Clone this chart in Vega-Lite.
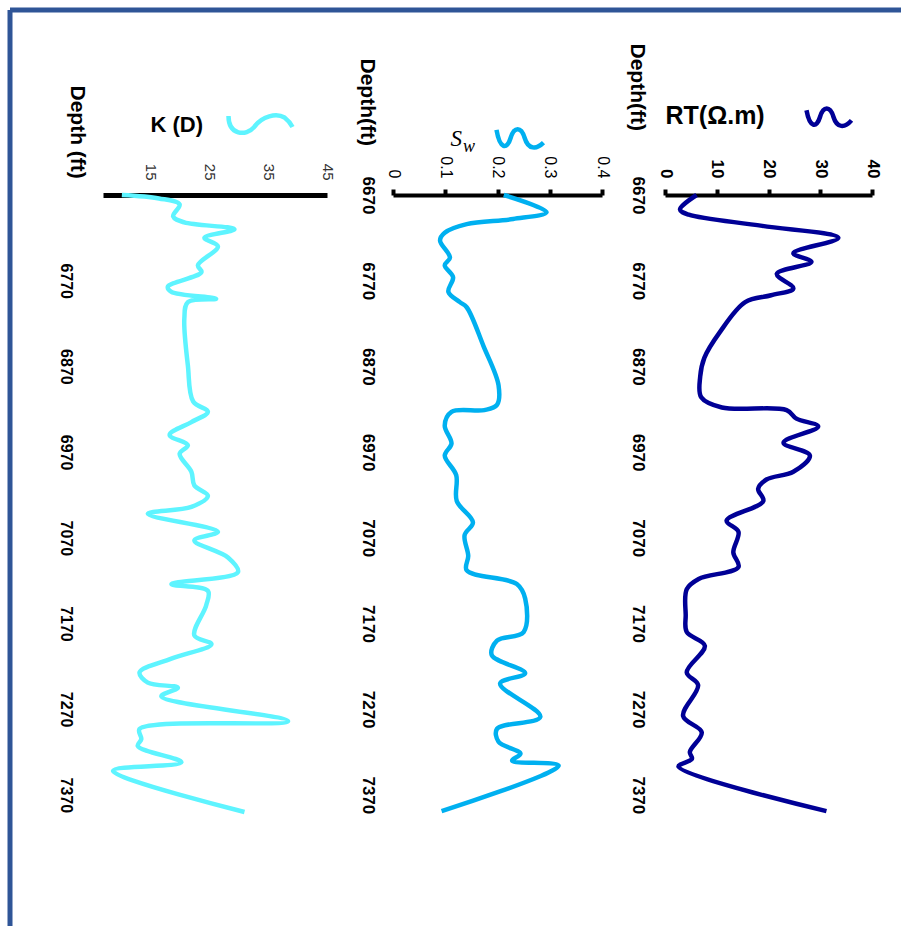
{
  "$schema": "https://vega.github.io/schema/vega-lite/v6.json",
  "width": 891,
  "height": 916,
  "autosize": {"type": "none"},
  "padding": {"left": 10, "top": 10, "right": 0, "bottom": 0},
  "background": "white",
  "datasets": {
    "rt": [
      {"depth": 6670, "rt": 6.1}, {"depth": 6687, "rt": 2.9}, {"depth": 6693, "rt": 4.6},
      {"depth": 6706, "rt": 18.8}, {"depth": 6720, "rt": 33.5}, {"depth": 6738, "rt": 24.8},
      {"depth": 6748, "rt": 28.3}, {"depth": 6762, "rt": 21.6}, {"depth": 6779, "rt": 24.8},
      {"depth": 6787, "rt": 20.5}, {"depth": 6795, "rt": 15.5}, {"depth": 6830, "rt": 10.6},
      {"depth": 6860, "rt": 7.6}, {"depth": 6882, "rt": 6.8}, {"depth": 6906, "rt": 7.0},
      {"depth": 6918, "rt": 11.0}, {"depth": 6921, "rt": 23.5}, {"depth": 6931, "rt": 25.4},
      {"depth": 6940, "rt": 29.6}, {"depth": 6959, "rt": 22.9}, {"depth": 6974, "rt": 28.0},
      {"depth": 6993, "rt": 24.8}, {"depth": 7002, "rt": 19.6}, {"depth": 7013, "rt": 18.0},
      {"depth": 7027, "rt": 19.0}, {"depth": 7050, "rt": 11.9}, {"depth": 7063, "rt": 14.2},
      {"depth": 7087, "rt": 13.2}, {"depth": 7104, "rt": 14.2}, {"depth": 7118, "rt": 6.5},
      {"depth": 7130, "rt": 4.2}, {"depth": 7160, "rt": 4.0}, {"depth": 7180, "rt": 4.2},
      {"depth": 7196, "rt": 7.7}, {"depth": 7227, "rt": 4.2}, {"depth": 7242, "rt": 6.4},
      {"depth": 7278, "rt": 3.5}, {"depth": 7297, "rt": 7.1}, {"depth": 7320, "rt": 4.8},
      {"depth": 7328, "rt": 5.2}, {"depth": 7337, "rt": 2.6}, {"depth": 7389, "rt": 31.2}
    ],
    "sw": [
      {"depth": 6670, "sw": 0.212}, {"depth": 6690, "sw": 0.294}, {"depth": 6698, "sw": 0.23},
      {"depth": 6704, "sw": 0.141}, {"depth": 6714, "sw": 0.099}, {"depth": 6723, "sw": 0.09},
      {"depth": 6743, "sw": 0.109}, {"depth": 6752, "sw": 0.099}, {"depth": 6766, "sw": 0.115},
      {"depth": 6783, "sw": 0.106}, {"depth": 6795, "sw": 0.128}, {"depth": 6801, "sw": 0.141},
      {"depth": 6846, "sw": 0.173}, {"depth": 6892, "sw": 0.202}, {"depth": 6915, "sw": 0.199},
      {"depth": 6921, "sw": 0.175}, {"depth": 6923, "sw": 0.112}, {"depth": 6939, "sw": 0.099},
      {"depth": 6960, "sw": 0.112}, {"depth": 6974, "sw": 0.099}, {"depth": 6997, "sw": 0.121},
      {"depth": 7027, "sw": 0.122}, {"depth": 7052, "sw": 0.153}, {"depth": 7067, "sw": 0.137},
      {"depth": 7091, "sw": 0.144}, {"depth": 7108, "sw": 0.141}, {"depth": 7124, "sw": 0.237},
      {"depth": 7141, "sw": 0.253}, {"depth": 7180, "sw": 0.25}, {"depth": 7190, "sw": 0.199},
      {"depth": 7207, "sw": 0.189}, {"depth": 7228, "sw": 0.253}, {"depth": 7240, "sw": 0.205},
      {"depth": 7279, "sw": 0.282}, {"depth": 7293, "sw": 0.199}, {"depth": 7308, "sw": 0.202},
      {"depth": 7322, "sw": 0.244}, {"depth": 7330, "sw": 0.228}, {"depth": 7336, "sw": 0.317},
      {"depth": 7389, "sw": 0.093}
    ],
    "k": [
      {"depth": 6670, "k": 10.2}, {"depth": 6674, "k": 16.5}, {"depth": 6681, "k": 20.0},
      {"depth": 6695, "k": 18.9}, {"depth": 6702, "k": 20.8}, {"depth": 6710, "k": 29.3},
      {"depth": 6720, "k": 24.2}, {"depth": 6730, "k": 26.5}, {"depth": 6752, "k": 23.1},
      {"depth": 6760, "k": 23.7}, {"depth": 6777, "k": 18.0}, {"depth": 6783, "k": 18.6},
      {"depth": 6791, "k": 26.2}, {"depth": 6795, "k": 21.4}, {"depth": 6814, "k": 20.8},
      {"depth": 6869, "k": 21.4}, {"depth": 6911, "k": 22.3}, {"depth": 6923, "k": 24.8},
      {"depth": 6935, "k": 22.0}, {"depth": 6950, "k": 18.3}, {"depth": 6962, "k": 21.4},
      {"depth": 6972, "k": 20.0}, {"depth": 6993, "k": 22.0}, {"depth": 7009, "k": 22.5},
      {"depth": 7021, "k": 24.8}, {"depth": 7034, "k": 22.0}, {"depth": 7042, "k": 14.6},
      {"depth": 7063, "k": 26.5}, {"depth": 7073, "k": 22.5}, {"depth": 7093, "k": 28.2},
      {"depth": 7110, "k": 29.9}, {"depth": 7124, "k": 18.6}, {"depth": 7132, "k": 24.8},
      {"depth": 7149, "k": 24.5}, {"depth": 7184, "k": 22.5}, {"depth": 7194, "k": 25.4},
      {"depth": 7211, "k": 18.6}, {"depth": 7227, "k": 13.2}, {"depth": 7239, "k": 14.6},
      {"depth": 7245, "k": 19.7}, {"depth": 7255, "k": 16.9}, {"depth": 7284, "k": 38.4},
      {"depth": 7293, "k": 13.2}, {"depth": 7305, "k": 13.5}, {"depth": 7313, "k": 12.9},
      {"depth": 7332, "k": 20.3}, {"depth": 7342, "k": 8.7}, {"depth": 7390, "k": 31.0}
    ]
  },
  "layer": [
    {
      "data": {"name": "rt"},
      "mark": {"type": "line", "interpolate": "catmull-rom", "strokeWidth": 4.5},
      "encoding": {
        "x": {
          "field": "rt", "type": "quantitative",
          "scale": {"domain": [0, 40], "range": [655, 862], "nice": false, "zero": false},
          "axis": {
            "orient": "top", "offset": -185, "values": [0, 10, 20, 30, 40],
            "grid": false, "domainColor": "#000000", "domainWidth": 4,
            "ticks": true, "tickSize": 6, "tickWidth": 4, "tickColor": "#000000",
            "labelAngle": 90, "labelAlign": "right", "labelBaseline": "middle",
            "labelPadding": 11, "labelFlush": false, "labelOverlap": false, "labelBound": false,
            "labelFont": "Liberation Sans", "labelFontSize": 17, "labelFontWeight": "bold", "labelColor": "#000000",
            "title": "RT(Ω.m)", "titleX": 655, "titleY": -80, "titleAngle": 0,
            "titleAlign": "left", "titleBaseline": "middle",
            "titleFont": "Liberation Sans", "titleFontSize": 25, "titleFontWeight": "bold", "titleColor": "#000000"
          }
        },
        "y": {
          "field": "depth", "type": "quantitative",
          "scale": {"domain": [6670, 7390], "range": [185, 802], "nice": false, "zero": false},
          "axis": {
            "orient": "left", "offset": -655, "values": [6670, 6770, 6870, 6970, 7070, 7170, 7270, 7370],
            "format": "d", "grid": false, "domain": false, "ticks": false, "tickSize": 0,
            "labelAngle": 90, "labelAlign": "center", "labelBaseline": "top", "labelPadding": 20,
            "labelFlush": false, "labelOverlap": false, "labelBound": false,
            "labelFont": "Liberation Sans", "labelFontSize": 17, "labelFontWeight": "bold", "labelColor": "#000000",
            "title": "Depth(ft)", "titleX": -18, "titleY": 33, "titleAngle": 90,
            "titleAlign": "left", "titleBaseline": "top",
            "titleFont": "Liberation Sans", "titleFontSize": 21, "titleFontWeight": "bold", "titleColor": "#000000"
          }
        },
        "order": {"field": "depth", "type": "quantitative"},
        "color": {
          "datum": "RT", "type": "nominal",
          "scale": {"range": ["#000096"]},
          "legend": {
            "orient": "none", "legendX": 794, "legendY": 82, "title": null, "padding": 0,
            "labelExpr": "''",
            "symbolType": "M-1,-0.3C-0.85,0.5,-0.55,0.5,-0.4,0C-0.25,-0.5,0.05,-0.5,0.2,0C0.35,0.5,0.7,0.5,1,0.15",
            "symbolSize": 2025, "symbolStrokeWidth": 4.5, "symbolFillColor": "transparent",
            "encode": {"symbols": {"update": {"fill": {"value": "transparent"}, "strokeWidth": {"value": 4.5}}}}
          }
        }
      }
    },
    {
      "data": {"name": "sw"},
      "mark": {"type": "line", "interpolate": "catmull-rom", "strokeWidth": 4.5},
      "encoding": {
        "x": {
          "field": "sw", "type": "quantitative",
          "scale": {"domain": [0, 0.4], "range": [383, 592], "nice": false, "zero": false},
          "axis": {
            "orient": "top", "offset": -185, "values": [0, 0.1, 0.2, 0.3, 0.4], "format": ".1~f",
            "grid": false, "domainColor": "#000000", "domainWidth": 4,
            "ticks": true, "tickSize": 6, "tickWidth": 4, "tickColor": "#000000",
            "labelAngle": 90, "labelAlign": "right", "labelBaseline": "middle",
            "labelPadding": 11, "labelFlush": false, "labelOverlap": false, "labelBound": false,
            "labelFont": "Liberation Sans", "labelFontSize": 16, "labelFontWeight": "normal", "labelColor": "#000000",
            "title": "S", "titleX": 440, "titleY": -50, "titleAngle": 0,
            "titleAlign": "left", "titleBaseline": "alphabetic",
            "titleFont": "Liberation Serif", "titleFontSize": 23, "titleFontStyle": "italic", "titleFontWeight": "normal", "titleColor": "#000000"
          }
        },
        "y": {
          "field": "depth", "type": "quantitative",
          "scale": {"domain": [6670, 7390], "range": [185, 802], "nice": false, "zero": false},
          "axis": {
            "orient": "left", "offset": -383, "values": [6670, 6770, 6870, 6970, 7070, 7170, 7270, 7370],
            "format": "d", "grid": false, "domain": false, "ticks": false, "tickSize": 0,
            "labelAngle": 90, "labelAlign": "center", "labelBaseline": "top", "labelPadding": 18,
            "labelFlush": false, "labelOverlap": false, "labelBound": false,
            "labelFont": "Liberation Sans", "labelFontSize": 17, "labelFontWeight": "bold", "labelColor": "#000000",
            "title": "Depth(ft)", "titleX": -16, "titleY": 48, "titleAngle": 90,
            "titleAlign": "left", "titleBaseline": "top",
            "titleFont": "Liberation Sans", "titleFontSize": 21, "titleFontWeight": "bold", "titleColor": "#000000"
          }
        },
        "order": {"field": "depth", "type": "quantitative"},
        "color": {
          "datum": "Sw", "type": "nominal",
          "scale": {"range": ["#00B0F0"]},
          "legend": {
            "orient": "none", "legendX": 484, "legendY": 102, "title": null, "padding": 0,
            "labelExpr": "'w'", "labelOffset": -83, "labelBaseline": "top",
            "labelFont": "Liberation Serif", "labelFontStyle": "italic", "labelFontSize": 18, "labelColor": "#000000",
            "symbolType": "M-1,-0.35C-0.85,0.5,-0.55,0.5,-0.4,0C-0.25,-0.5,0.05,-0.5,0.2,0C0.35,0.5,0.7,0.5,1,0.2",
            "symbolSize": 2209, "symbolStrokeWidth": 4.5, "symbolFillColor": "transparent",
            "encode": {"symbols": {"update": {"fill": {"value": "transparent"}, "strokeWidth": {"value": 4.5}}}}
          }
        }
      }
    },
    {
      "data": {"name": "k"},
      "mark": {"type": "line", "interpolate": "catmull-rom", "strokeWidth": 4.5},
      "encoding": {
        "x": {
          "field": "k", "type": "quantitative",
          "scale": {"domain": [7, 45], "range": [93, 317], "nice": false, "zero": false},
          "axis": {
            "orient": "top", "offset": -185, "values": [15, 25, 35, 45],
            "grid": false, "domainColor": "#000000", "domainWidth": 5,
            "ticks": false, "tickSize": 0,
            "labelAngle": 90, "labelAlign": "right", "labelBaseline": "middle",
            "labelPadding": 15, "labelFlush": false, "labelOverlap": false, "labelBound": false,
            "labelFont": "Liberation Sans", "labelFontSize": 15, "labelFontWeight": "normal", "labelColor": "#333333",
            "title": "K (D)", "titleX": 140, "titleY": -71, "titleAngle": 0,
            "titleAlign": "left", "titleBaseline": "middle",
            "titleFont": "Liberation Sans", "titleFontSize": 22, "titleFontWeight": "bold", "titleColor": "#000000"
          }
        },
        "y": {
          "field": "depth", "type": "quantitative",
          "scale": {"domain": [6670, 7390], "range": [185, 802], "nice": false, "zero": false},
          "axis": {
            "orient": "left", "offset": -93, "values": [6770, 6870, 6970, 7070, 7170, 7270, 7370],
            "format": "d", "grid": false, "domain": false, "ticks": false, "tickSize": 0,
            "labelAngle": 90, "labelAlign": "center", "labelBaseline": "top", "labelPadding": 30,
            "labelFlush": false, "labelOverlap": false, "labelBound": false,
            "labelFont": "Liberation Sans", "labelFontSize": 16, "labelFontWeight": "bold", "labelColor": "#000000",
            "title": "Depth (ft)", "titleX": -16, "titleY": 75, "titleAngle": 90,
            "titleAlign": "left", "titleBaseline": "top",
            "titleFont": "Liberation Sans", "titleFontSize": 21, "titleFontWeight": "bold", "titleColor": "#000000"
          }
        },
        "order": {"field": "depth", "type": "quantitative"},
        "color": {
          "datum": "K", "type": "nominal",
          "scale": {"range": ["#5EF4FF"]},
          "legend": {
            "orient": "none", "legendX": 216, "legendY": 81, "title": null, "padding": 0,
            "labelExpr": "''",
            "symbolType": "M-1,-0.3C-1,0.3,-0.45,0.35,-0.2,0.05C0.05,-0.3,0.5,-0.4,0.75,-0.25C0.88,-0.15,0.95,-0.05,1,0.05",
            "symbolSize": 4096, "symbolStrokeWidth": 4.5, "symbolFillColor": "transparent",
            "encode": {"symbols": {"update": {"fill": {"value": "transparent"}, "strokeWidth": {"value": 4.5}}}}
          }
        }
      }
    }
  ],
  "resolve": {
    "scale": {"x": "independent", "y": "independent", "color": "independent"},
    "axis": {"x": "independent", "y": "independent"},
    "legend": {"color": "independent"}
  },
  "config": {
    "font": "Liberation Sans",
    "view": {"stroke": "#2F5597", "strokeWidth": 5, "strokeDash": [891, 1807, 916, 0]}
  }
}
